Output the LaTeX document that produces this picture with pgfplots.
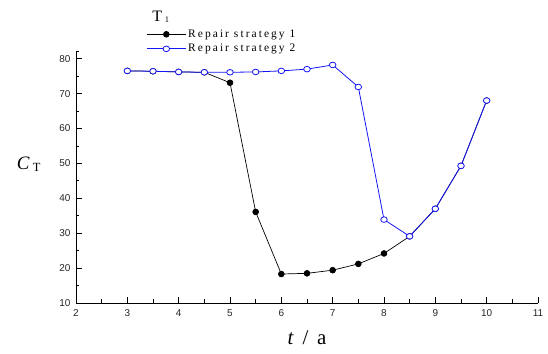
\documentclass[border=0pt]{standalone}
\usepackage{pgfplots}
\pgfplotsset{compat=1.18}
\usepackage{fontspec}
\setmainfont{Liberation Serif}
\newfontfamily\ticksans{Liberation Sans}
\newfontfamily\legserif[LetterSpace=18]{Liberation Serif}
\definecolor{strblue}{RGB}{20,20,245}

\begin{document}
\begin{tikzpicture}
\begin{axis}[
  at={(0,0)}, anchor=south west,
  scale only axis,
  width=462bp, height=252bp,
  xmin=2, xmax=11, ymin=10, ymax=82.2,
  axis x line*=bottom, axis y line*=left,
  axis line style={line width=0.8pt, -},
  xtick={2,...,11}, ytick={10,20,...,80},
  minor xtick={2.5,3.5,...,10.5},
  minor ytick={15,25,...,75,82.2},
  tick align=inside,
  major tick length=6bp, minor tick length=3.5bp,
  tick style={line width=0.7pt, black},
  tick label style={font=\ticksans\fontsize{10}{12}\selectfont, text=black!85},
  /pgf/number format/assume math mode=true,
  xticklabel style={yshift=-3bp},
  yticklabel style={xshift=-2bp},
  xlabel={\fontsize{21}{24}\selectfont\textit{t}\ \,/\ \,a},
  xlabel style={at={(rel axis cs:0.5,0)}, anchor=north, yshift=-24bp},
  ylabel={\fontsize{19}{21}\selectfont\textit{C}\,{\fontsize{12.5}{12}\selectfont\raisebox{-0.35ex}{T}}},
  ylabel style={rotate=-90, at={(rel axis cs:0,0.55)}, anchor=east, xshift=-32bp},
  legend style={draw=none, fill=none, at={(rel axis cs:0.152,1.093)}, anchor=north west,
    font=\legserif\fontsize{11.5}{13}\selectfont, row sep=1.5bp,
    inner sep=0pt, cells={anchor=west}},
  legend cell align=left,
  legend image code/.code={%
    \draw[#1, mark repeat=2, mark phase=2] plot coordinates {(0bp,0bp)(19.5bp,0bp)(39bp,0bp)};},
  clip=false,
]
% repair strategy 1
\addplot[black, line width=0.7pt, mark=*, mark size=2.9bp, mark options={solid, fill=black}]
  coordinates {(3,76.5)(3.5,76.4)(4,76.2)(4.5,76.1)(5,73.1)(5.5,36.1)(6,18.3)(6.5,18.5)
               (7,19.4)(7.5,21.2)(8,24.2)(8.5,29.1)(9,37.0)(9.5,49.3)(10,68.0)};
\addlegendentry{Repair strategy 1}
% repair strategy 2
\addplot[strblue, line width=0.8pt, mark=*, mark size=3.3bp, mark options={solid, fill=white, line width=0.8pt, yscale=0.85}]
  coordinates {(3,76.5)(3.5,76.4)(4,76.2)(4.5,76.1)(5,76.1)(5.5,76.2)(6,76.5)(6.5,77.0)
               (7,78.2)(7.5,71.9)(8,33.9)(8.5,29.1)(9,37.0)(9.5,49.3)(10,68.0)};
\addlegendentry{Repair strategy 2}
\node[anchor=base west, font=\fontsize{16}{18}\selectfont, inner sep=0pt]
  at (rel axis cs:0.165,1.117) {T\,{\fontsize{8.5}{8}\selectfont\raisebox{-0.3ex}{1}}};
\end{axis}
\pgfresetboundingbox
\path (-76bp,-51bp) rectangle (472bp,303bp);
\end{tikzpicture}
\end{document}
